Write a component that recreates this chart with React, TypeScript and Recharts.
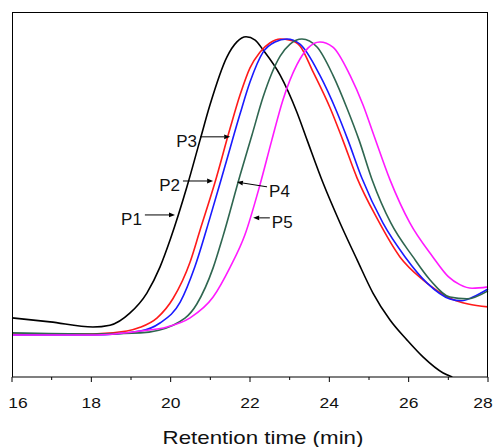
import React from 'react';
import { LineChart, Line, XAxis, YAxis, ReferenceLine } from 'recharts';

// Retention time (min) vs detector signal (arbitrary units, 0-100)
const P1 = [
  [16.0, 16.2], [16.96, 15.1], [18.04, 13.7], [18.47, 14.2], [18.97, 17.5], [19.4, 23.0],
  [19.73, 30.1], [20.0, 38.0], [20.41, 52.1], [20.74, 64.9], [20.99, 74.5], [21.42, 87.7],
  [21.67, 91.8], [21.9, 93.2], [22.13, 92.3], [22.33, 89.6], [22.76, 82.7], [23.18, 72.6],
  [23.44, 64.9], [23.84, 53.2], [24.27, 42.2], [24.7, 32.1], [25.1, 23.0], [25.53, 15.6],
  [25.96, 10.1], [26.36, 5.5], [26.87, 1.1], [27.1, 0.0],
];
const P2 = [
  [16.0, 11.8], [18.04, 11.8], [18.9, 12.6], [19.23, 13.6], [19.66, 16.2], [20.06, 21.5],
  [20.49, 31.5], [20.74, 40.2], [21.12, 53.4], [21.5, 68.2], [21.75, 77.3], [22.0, 84.7],
  [22.25, 89.0], [22.5, 91.5], [22.76, 92.6], [23.01, 92.3], [23.26, 90.7], [23.59, 83.6],
  [24.02, 73.7], [24.34, 64.9], [24.7, 54.5], [25.2, 43.5], [25.78, 32.9], [26.36, 26.6],
  [27.04, 21.6], [27.5, 20.0], [28.0, 19.2],
];
const P3 = [
  [16.0, 11.5], [18.04, 11.5], [19.23, 12.6], [19.73, 14.8], [20.24, 20.5], [20.61, 30.2],
  [20.99, 43.6], [21.37, 57.8], [21.75, 72.1], [22.0, 80.8], [22.33, 89.0], [22.63, 91.8],
  [22.93, 92.6], [23.26, 91.2], [23.76, 82.7], [24.19, 72.6], [24.47, 64.9], [24.82, 54.5],
  [25.35, 42.2], [25.91, 32.9], [26.46, 25.8], [27.04, 21.4], [27.34, 20.9], [27.62, 21.9],
  [28.0, 24.1],
];
const P4 = [
  [16.0, 12.1], [18.04, 11.8], [19.23, 12.1], [20.06, 14.2], [20.66, 20.0], [21.07, 29.9],
  [21.32, 38.6], [21.75, 55.3], [22.05, 66.3], [22.33, 76.7], [22.76, 87.9], [23.01, 91.2],
  [23.31, 92.6], [23.69, 90.4], [24.09, 82.7], [24.45, 73.5], [24.75, 64.9], [25.08, 54.0],
  [25.55, 42.2], [26.11, 32.9], [26.54, 26.6], [27.04, 21.9], [27.47, 21.4], [28.0, 23.6],
];
const P5 = [
  [16.0, 11.5], [18.04, 11.5], [19.23, 12.6], [19.91, 13.7], [20.49, 16.2], [21.07, 21.9],
  [21.5, 30.1], [21.87, 38.9], [22.25, 52.6], [22.55, 64.9], [22.83, 75.9], [23.18, 85.5],
  [23.46, 90.1], [23.76, 91.8], [24.09, 90.4], [24.52, 82.7], [24.85, 74.5], [25.12, 66.3],
  [25.53, 54.0], [26.03, 42.2], [26.61, 32.9], [27.0, 27.5], [27.29, 25.3], [27.6, 24.3],
  [28.0, 24.7],
];

const SERIES = [
  { name: 'P1', data: P1, color: '#000000' },
  { name: 'P2', data: P2, color: '#ff1a1a' },
  { name: 'P3', data: P3, color: '#1a1aff' },
  { name: 'P4', data: P4, color: '#2f6650' },
  { name: 'P5', data: P5, color: '#ff1aff' },
];

// Arrow annotations: label, tail (t, v), head (t, v)
const LABELS = ['P1', 'P2', 'P3', 'P4', 'P5'];
const ARROW_TAILS = [[19.35, 44.4], [20.31, 53.7], [20.74, 65.8], [22.43, 52.1], [22.5, 43.6]];
const ARROW_HEADS = [[20.11, 44.4], [21.07, 53.7], [21.5, 65.8], [21.67, 53.4], [22.08, 43.6]];

const X_TICKS = [16, 17, 18, 19, 20, 21, 22, 23, 24, 25, 26, 27, 28];
const X_DOMAIN = [16, 28];
const Y_DOMAIN = [0, 100];
const X_TITLE = 'Retention time (min)';

const toRows = (arr: number[][]) => arr.map(([t, v]) => ({ t, v }));

const FONT = '"Liberation Sans", Arial, sans-serif';
const CHART_W = 493;
const CHART_H = 447;
const XAXIS_H = 70;
const MARGIN = { top: 12, right: 5, bottom: 0, left: 12 };
const PLOT_W = CHART_W - MARGIN.left - MARGIN.right;
const PLOT_H = CHART_H - MARGIN.top - MARGIN.bottom - XAXIS_H;

const Tick = (props: any) => {
  const { x, y, payload } = props;
  const v = payload.value as number;
  const major = v % 2 === 0;
  const lx = x + (v === 16 ? 6 : v === 28 ? -5 : 0);
  return (
    <g>
      <line x1={x} x2={x} y1={y} y2={y + (major ? 5 : 3)} stroke="#000" strokeWidth={1} />
      {major && (
        <text
          x={lx}
          y={y + 31}
          textAnchor="middle"
          fontSize={14}
          fontFamily={FONT}
          fill="#111"
          transform={`translate(${lx} 0) scale(1.25 1) translate(${-lx} 0)`}
        >
          {v}
        </text>
      )}
    </g>
  );
};

const Title = (props: any) => {
  const vb = props.viewBox || {};
  const cx = (vb.x || MARGIN.left) + (vb.width || PLOT_W) / 2 + 13;
  return (
    <text
      x={cx}
      y={444}
      textAnchor="middle"
      fontSize={18}
      fontFamily={FONT}
      fill="#111"
      transform={`translate(${cx} 0) scale(1.24 1) translate(${-cx} 0)`}
    >
      {X_TITLE}
    </text>
  );
};

const arrowShape = (label: string) => (props: any) => {
  const { x1, y1, x2, y2 } = props;
  if ([x1, y1, x2, y2].some((n) => typeof n !== 'number' || isNaN(n))) return <g />;
  const dx = x2 - x1;
  const dy = y2 - y1;
  const len = Math.hypot(dx, dy) || 1;
  const ux = dx / len;
  const uy = dy / len;
  const hl = 6;
  const hw = 2.4;
  const bx = x2 - ux * hl;
  const by = y2 - uy * hl;
  const pts = `${x2},${y2} ${bx - uy * hw},${by + ux * hw} ${bx + uy * hw},${by - ux * hw}`;
  const toRight = x1 < x2;
  const tx = toRight ? x1 - 3 : x1 + 2;
  return (
    <g>
      <line x1={x1} y1={y1} x2={bx} y2={by} stroke="#000" strokeWidth={1} />
      <polygon points={pts} fill="#000" />
      <text
        x={tx}
        y={y1 + 10}
        textAnchor={toRight ? 'end' : 'start'}
        fontSize={17}
        fontFamily={FONT}
        fill="#111"
      >
        {label}
      </text>
    </g>
  );
};

export default function App() {
  return (
    <div style={{ position: 'absolute', left: 0, top: 0, width: CHART_W, height: CHART_H, background: '#fff' }}>
      <LineChart width={CHART_W} height={CHART_H} margin={MARGIN}>
        <XAxis
          dataKey="t"
          type="number"
          domain={X_DOMAIN}
          ticks={X_TICKS}
          interval={0}
          allowDuplicatedCategory={false}
          height={XAXIS_H}
          tickSize={0}
          tickMargin={0}
          tickLine={false}
          tick={<Tick />}
          axisLine={{ stroke: '#000', strokeWidth: 1.2 }}
          label={<Title />}
        />
        <YAxis type="number" domain={Y_DOMAIN} hide allowDataOverflow />
        {SERIES.map((s) => (
          <Line
            key={s.name}
            data={toRows(s.data)}
            dataKey="v"
            type="monotone"
            stroke={s.color}
            strokeWidth={1.6}
            dot={false}
            isAnimationActive={false}
          />
        ))}
        {LABELS.map((lab, i) => (
          <ReferenceLine
            key={lab}
            segment={[
              { x: ARROW_TAILS[i][0], y: ARROW_TAILS[i][1] },
              { x: ARROW_HEADS[i][0], y: ARROW_HEADS[i][1] },
            ]}
            ifOverflow="visible"
            shape={arrowShape(lab)}
          />
        ))}
      </LineChart>
      {/* plot frame: left, top and right edges of the plot area */}
      <div
        style={{
          position: 'absolute',
          left: MARGIN.left - 0.5,
          top: MARGIN.top - 0.5,
          width: PLOT_W,
          height: PLOT_H,
          borderLeft: '1px solid #000',
          borderTop: '1px solid #000',
          borderRight: '1px solid #000',
          boxSizing: 'border-box',
          pointerEvents: 'none',
        }}
      />
    </div>
  );
}
